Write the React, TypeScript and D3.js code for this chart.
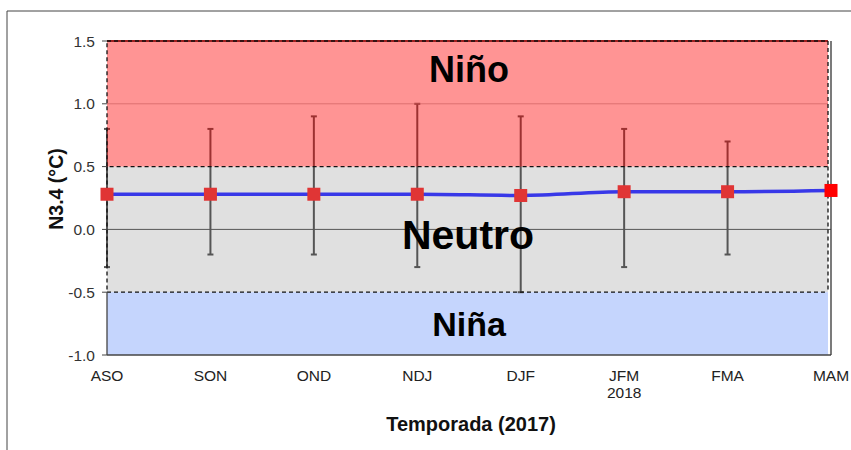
import React from "react";
import * as d3 from "d3";

const seasons = ["ASO", "SON", "OND", "NDJ", "DJF", "JFM", "FMA", "MAM"];
const seasonSub = ["", "", "", "", "", "2018", "", ""];
const values = [0.28, 0.28, 0.28, 0.28, 0.27, 0.3, 0.3, 0.31];
const errHigh = [0.8, 0.8, 0.9, 1.0, 0.9, 0.8, 0.7, null];
const errLow = [-0.3, -0.2, -0.2, -0.3, -0.5, -0.3, -0.2, null];
const yTicks = [-1.0, -0.5, 0.0, 0.5, 1.0, 1.5];

const W = 851, H = 450;
const left = 107, right = 831, top = 41, bottom = 355;

export default function App() {
  const x = d3.scalePoint<string>().domain(seasons).range([left, right]);
  const y = d3.scaleLinear().domain([-1.0, 1.5]).range([bottom, top]);
  const line = d3
    .line<number>()
    .x((_, i) => x(seasons[i]) as number)
    .y((d) => y(d))
    .curve(d3.curveMonotoneX);
  const plotRight = 828;
  const font = "Arial, 'Liberation Sans', sans-serif";
  return (
    <svg
      width={W}
      height={H}
      style={{ position: "absolute", left: 0, top: 0 }}
      fontFamily={font}
    >
      <rect x={0} y={0} width={W} height={H} fill="#fff" />
      {/* outer frame */}
      <line x1={7} y1={11} x2={W} y2={11} stroke="#444" strokeWidth={1} />
      <line x1={7} y1={11} x2={7} y2={H} stroke="#444" strokeWidth={1} />

      {/* neutral region */}
      <rect x={left} y={y(0.5)} width={plotRight - left} height={y(-0.5) - y(0.5)} fill="#e0e0e0" />
      {/* blue region */}
      <rect x={left} y={y(-0.5)} width={plotRight - left} height={y(-1.0) - y(-0.5)} fill="#c5d5fd" />
      {/* white under red region */}
      <rect x={left} y={y(1.5)} width={plotRight - left} height={y(0.5) - y(1.5)} fill="#fff" />

      {/* zero line */}
      <line x1={left} x2={right} y1={y(0)} y2={y(0)} stroke="#555" strokeWidth={1} />

      {/* error bars */}
      {seasons.map((s, i) =>
        errHigh[i] == null ? null : (
          <g key={"e" + s} stroke="#555" strokeWidth={2}>
            <line x1={x(s)} x2={x(s)} y1={y(errHigh[i] as number)} y2={y(errLow[i] as number)} />
            <line x1={(x(s) as number) - 3} x2={(x(s) as number) + 3} y1={y(errHigh[i] as number)} y2={y(errHigh[i] as number)} />
            <line x1={(x(s) as number) - 3} x2={(x(s) as number) + 3} y1={y(errLow[i] as number)} y2={y(errLow[i] as number)} />
          </g>
        )
      )}

      {/* red region overlay */}
      <rect x={left} y={y(1.5)} width={plotRight - left} height={y(0.5) - y(1.5)} fill="rgb(255,0,0)" fillOpacity={0.42} />
      <line x1={left} x2={plotRight} y1={y(1.0)} y2={y(1.0)} stroke="#d06060" strokeWidth={0.7} />
      <line x1={left} x2={plotRight} y1={y(1.5)} y2={y(1.5)} stroke="#a02020" strokeWidth={2} />

      {/* dashed borders */}
      <g fill="none" stroke="#111" strokeWidth={1.3} strokeDasharray="4,3">
        <rect x={left} y={y(1.5)} width={plotRight - left} height={y(0.5) - y(1.5)} />
        <line x1={left} x2={plotRight} y1={y(-0.5)} y2={y(-0.5)} />
        <line x1={plotRight} x2={plotRight} y1={y(0.5)} y2={y(-0.5)} />
        <line x1={left} x2={left} y1={y(0.5)} y2={y(-0.5)} />
      </g>

      {/* axes */}
      <line x1={left} x2={left} y1={y(-0.5)} y2={bottom} stroke="#444" strokeWidth={1.3} />
      <line x1={left} x2={right} y1={bottom} y2={bottom} stroke="#444" strokeWidth={1.3} />
      <line x1={right} x2={right} y1={top} y2={bottom} stroke="#333" strokeWidth={1.3} />
      {yTicks.map((t) => (
        <g key={"t" + t}>
          <line x1={left - 5} x2={left} y1={y(t)} y2={y(t)} stroke="#444" />
          <text x={95} y={y(t) + 5.5} textAnchor="end" fontSize={15.5} fill="#333">
            {t.toFixed(1)}
          </text>
        </g>
      ))}

      {/* region labels */}
      <text x={469} y={82} textAnchor="middle" fontSize={36} fontWeight="bold" fill="#000">Niño</text>
      <text x={468} y={249} textAnchor="middle" fontSize={41} fontWeight="bold" fill="#000">Neutro</text>
      <text x={469} y={336} textAnchor="middle" fontSize={34} fontWeight="bold" fill="#000">Niña</text>

      {/* series line */}
      <path d={line(values) || ""} fill="none" stroke="#3838e8" strokeWidth={3.5} />
      {seasons.map((s, i) => (
        <rect
          key={"m" + s}
          x={(x(s) as number) - 6.5}
          y={y(values[i]) - 6.5}
          width={13}
          height={13}
          fill={i === seasons.length - 1 ? "#ff0000" : "#e03535"}
        />
      ))}

      {/* x labels */}
      {seasons.map((s, i) => (
        <g key={"x" + s}>
          <text x={x(s)} y={381} textAnchor="middle" fontSize={15.5} fill="#222">{s}</text>
          {seasonSub[i] && (
            <text x={x(s)} y={398} textAnchor="middle" fontSize={15.5} fill="#222">{seasonSub[i]}</text>
          )}
        </g>
      ))}

      <text x={471} y={431} textAnchor="middle" fontSize={20} fontWeight="bold" fill="#111">Temporada (2017)</text>
      <text transform={`translate(63,189) rotate(-90)`} textAnchor="middle" fontSize={19.5} fontWeight="bold" fill="#111">N3.4 (°C)</text>
    </svg>
  );
}
